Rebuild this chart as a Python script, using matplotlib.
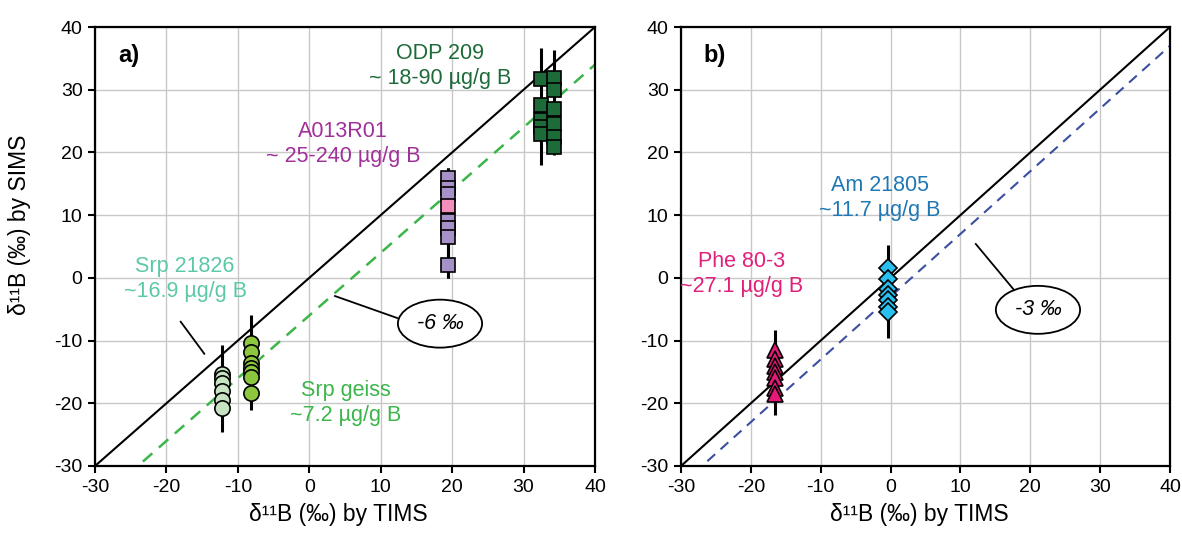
import matplotlib
matplotlib.use("Agg")
import matplotlib.pyplot as plt
import numpy as np

plt.rcParams['font.family'] = ['Liberation Sans', 'DejaVu Sans']
plt.rcParams['axes.unicode_minus'] = False

# ---------------- data ----------------
ticks = [-30, -20, -10, 0, 10, 20, 30, 40]
one_to_one = [-30, 40]
offset_a = -6.0
offset_b = -3.0

# Panel a
srp21826_x = -12.2
srp21826_y = [-15.3, -16.0, -16.8, -18.1, -19.5, -20.8]
srp21826_bar = (-24.6, -10.7)

srpgeiss_x = -8.1
srpgeiss_y = [-10.4, -11.8, -13.6, -14.4, -15.0, -15.8, -18.4]
srpgeiss_bar = (-21.1, -5.9)

a013_x = 19.4
a013_y = [16.0, 14.4, 13.3, 9.0, 8.0, 6.5, 2.0]
a013_pink_y = [11.5]
a013_bar = (0.0, 17.5)

odpL_x = 32.4
odpL_y = [31.7, 27.6, 25.2, 24.1, 23.0]
odpL_bar = (18.0, 36.6)

odpR_x = 34.2
odpR_y = [31.8, 30.0, 27.0, 24.6, 22.5, 20.9]
odpR_bar = (19.6, 36.3)

# Panel b
am_x = -0.3
am_y = [1.5, -0.2, -1.7, -2.7, -3.5, -4.6, -5.4]
am_bar = (-9.6, 5.2)

phe_x = -16.5
phe_y = [-11.5, -13.0, -14.0, -15.0, -16.0, -17.5, -18.5]
phe_bar = (-21.9, -8.3)

# ---------------- figure ----------------
fig = plt.figure(figsize=(11.82, 5.36), dpi=100)
axA = fig.add_axes([95/1182, 70/536, 500/1182, 439/536])
axB = fig.add_axes([681/1182, 70/536, 489/1182, 439/536])

def style(ax):
    ax.set_xlim(-30, 40)
    ax.set_ylim(-30, 40)
    ax.set_xticks(ticks)
    ax.set_yticks(ticks)
    ax.grid(True, color='#c8c8c8', lw=1.0, zorder=0)
    ax.set_axisbelow(True)
    for s in ax.spines.values():
        s.set_linewidth(1.6)
        s.set_color('black')
    ax.tick_params(direction='out', length=5, width=1.5, labelsize=14, pad=4)
    ax.set_xlabel('δ¹¹B (‰) by TIMS', fontsize=16.5)
    ax.xaxis.set_label_coords(0.487, -0.085)
    ax.plot(one_to_one, one_to_one, color='black', lw=1.5, zorder=2)

style(axA)
style(axB)
axA.set_ylabel('δ¹¹B (‰) by SIMS', fontsize=16.5)
axA.yaxis.set_label_coords(-0.128, 0.55)

xx = np.array(one_to_one, dtype=float)
axA.plot(xx, xx + offset_a, color='#3cb54a', lw=1.8, dashes=(5, 3.5), zorder=2)
axB.plot(xx, xx + offset_b, color='#3a4fa0', lw=1.5, dashes=(5, 3.5), zorder=2)

def group(ax, x, ys, bar, marker, ms, fc, mew=1.2):
    ax.vlines(x, bar[0], bar[1], color='black', lw=2.2, zorder=3)
    for y in ys:
        ax.plot([x], [y], marker=marker, ms=ms, mfc=fc, mec='black', mew=mew,
                ls='none', zorder=4)

group(axA, srp21826_x, srp21826_y, srp21826_bar, 'o', 11, '#c6e4c2')
group(axA, srpgeiss_x, srpgeiss_y, srpgeiss_bar, 'o', 11, '#8dc63f')
group(axA, a013_x, a013_y, a013_bar, 's', 9.5, '#a691c8')
group(axA, a013_x, a013_pink_y, a013_bar, 's', 9.5, '#f28fbb')
group(axA, odpL_x, odpL_y, odpL_bar, 's', 9.5, '#1e6b3a')
group(axA, odpR_x, odpR_y, odpR_bar, 's', 9.5, '#1e6b3a')

group(axB, am_x, am_y, am_bar, 'D', 9.5, '#29c0f0')
group(axB, phe_x, phe_y, phe_bar, '^', 12, '#e6197a')

# ---------------- text ----------------
axA.text(-26.8, 35.5, 'a)', fontsize=17, fontweight='bold', va='center', ha='left')
axB.text(-26.8, 35.5, 'b)', fontsize=17, fontweight='bold', va='center', ha='left')

kw = dict(fontsize=15.5, ha='center', va='center', linespacing=1.25, zorder=5)
axA.text(18.3, 33.8, 'ODP 209\n~ 18-90 µg/g B', color='#1e6b3a', **kw)
axA.text(4.7, 21.3, 'A013R01\n~ 25-240 µg/g B', color='#a0309a', **kw)
axA.text(-17.4, -0.2, 'Srp 21826\n~16.9 µg/g B', color='#5cc8a8', **kw)
axA.text(5.1, -20.0, 'Srp geiss\n~7.2 µg/g B', color='#3cb54a', **kw)
axB.text(-1.5, 12.7, 'Am 21805\n~11.7 µg/g B', color='#1f78b4', **kw)
axB.text(-21.3, 0.6, 'Phe 80-3\n~27.1 µg/g B', color='#e0207a', **kw)

# leader lines
axA.plot([3.6, 12.3], [-2.9, -6.4], color='black', lw=1.3, zorder=3)
axA.plot([-18.0, -14.7], [-7.0, -12.1], color='black', lw=1.3, zorder=3)
axB.plot([12.2, 18.4], [5.4, -2.9], color='black', lw=1.3, zorder=3)

ell = dict(boxstyle='ellipse,pad=0.3', fc='white', ec='black', lw=1.3)
axA.text(18.3, -7.3, '-6 ‰', fontsize=15.5, style='italic', ha='center', va='center',
         bbox=ell, zorder=6)
axB.text(21.1, -5.1, '-3 ‰', fontsize=15.5, style='italic', ha='center', va='center',
         bbox=ell, zorder=6)

fig.savefig('out.png', dpi=100)
